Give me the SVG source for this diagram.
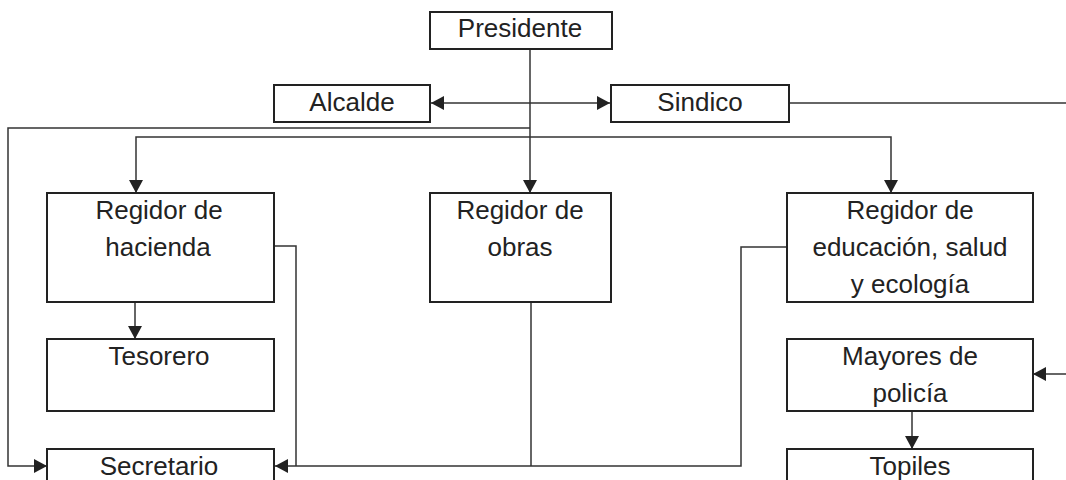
<svg xmlns="http://www.w3.org/2000/svg" width="1066" height="480" viewBox="0 0 1066 480">
<style>
.box{fill:#fff;stroke:#222;stroke-width:2}
.lbl{font-family:"Liberation Sans",Arial,sans-serif;font-size:26px;fill:#222;text-anchor:middle}
.con{fill:none;stroke:#333;stroke-width:1.5}
</style>
<defs>
<marker id="ah" viewBox="0 0 13 14" refX="13" refY="7" markerWidth="13" markerHeight="14" markerUnits="userSpaceOnUse" orient="auto-start-reverse">
<path d="M0,0 L13,7 L0,14 z" fill="#222"/>
</marker>
</defs>
<rect width="1066" height="480" fill="#fff"/>
<g id="connectors">
<path class="con" d="M530,49 V193" marker-end="url(#ah)"/>
<path class="con" d="M431,103 H610" marker-start="url(#ah)" marker-end="url(#ah)"/>
<path class="con" d="M789,103 H1066"/>
<path class="con" d="M530,128 H8 V466 H47" marker-end="url(#ah)"/>
<path class="con" d="M136,193 V137 H891 V193" marker-start="url(#ah)" marker-end="url(#ah)"/>
<path class="con" d="M135,302 V339" marker-end="url(#ah)"/>
<path class="con" d="M270,246 H296 V466"/>
<path class="con" d="M531,302 V466"/>
<path class="con" d="M788,247 H741 V466 H275" marker-end="url(#ah)"/>
<path class="con" d="M912,411 V449" marker-end="url(#ah)"/>
<path class="con" d="M1066,374 H1033" marker-end="url(#ah)"/>
</g>
<g id="presidente"><rect class="box" x="430" y="12" width="182" height="37"/><text class="lbl" x="520" y="37">Presidente</text></g>
<g id="alcalde"><rect class="box" x="274" y="85" width="156" height="37"/><text class="lbl" x="352" y="111">Alcalde</text></g>
<g id="sindico"><rect class="box" x="611" y="85" width="178" height="37"/><text class="lbl" x="700" y="111">Sindico</text></g>
<g id="regidor-hacienda"><rect class="box" x="47" y="193" width="227" height="109"/><text class="lbl" x="159" y="219">Regidor de</text><text class="lbl" x="158" y="256">hacienda</text></g>
<g id="regidor-obras"><rect class="box" x="430" y="193" width="181" height="109"/><text class="lbl" x="520" y="219">Regidor de</text><text class="lbl" x="520" y="256">obras</text></g>
<g id="regidor-educacion"><rect class="box" x="787" y="193" width="246" height="109"/><text class="lbl" x="910" y="219">Regidor de</text><text class="lbl" x="910" y="256">educación, salud</text><text class="lbl" x="910" y="293">y ecología</text></g>
<g id="tesorero"><rect class="box" x="47" y="339" width="227" height="72"/><text class="lbl" x="159" y="365">Tesorero</text></g>
<g id="mayores"><rect class="box" x="787" y="339" width="246" height="72"/><text class="lbl" x="910" y="365">Mayores de</text><text class="lbl" x="910" y="402">policía</text></g>
<g id="secretario"><rect class="box" x="47" y="449" width="227" height="45"/><text class="lbl" x="159" y="475">Secretario</text></g>
<g id="topiles"><rect class="box" x="787" y="449" width="246" height="45"/><text class="lbl" x="910" y="475">Topiles</text></g>
</svg>
